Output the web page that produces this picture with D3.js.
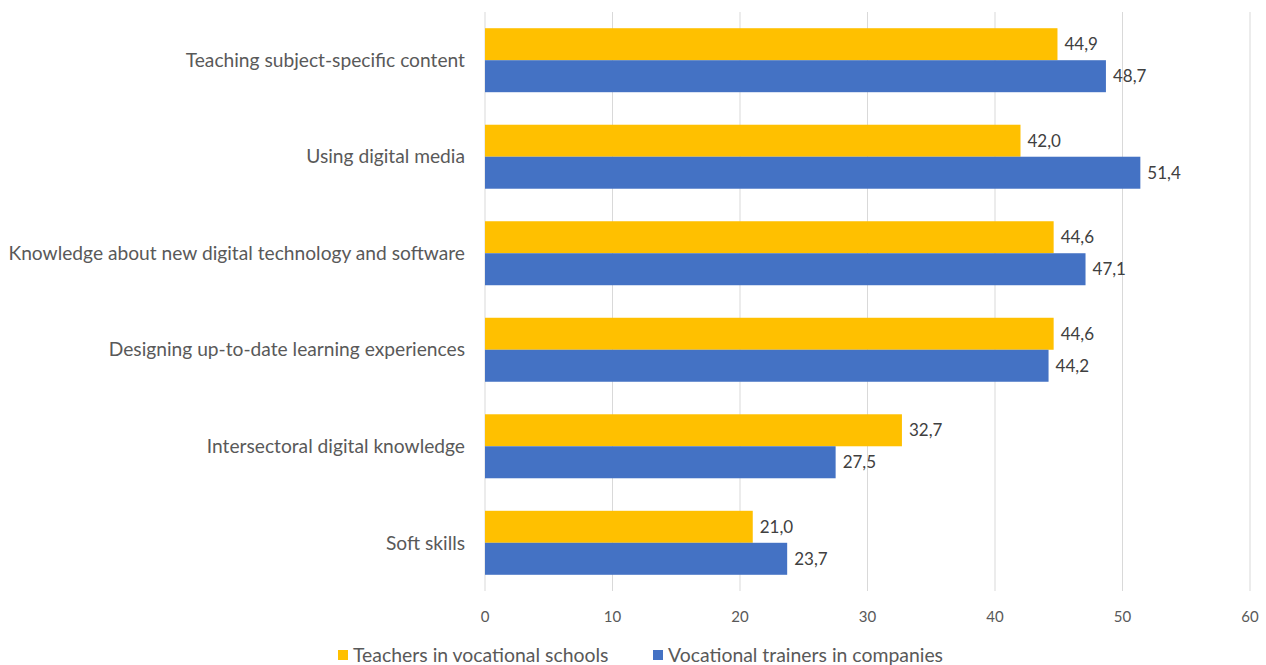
<!DOCTYPE html>
<html>
<head>
<meta charset="utf-8">
<script src="https://cdn.jsdelivr.net/npm/d3@7"></script>
<style>
  body { margin: 0; background: #fff; }
  text { font-family: Lato, "Open Sans", sans-serif; }
</style>
</head>
<body>
<script>
// chart data
var categories = [
    "Teaching subject-specific content",
    "Using digital media",
    "Knowledge about new digital technology and software",
    "Designing up-to-date learning experiences",
    "Intersectoral digital knowledge",
    "Soft skills"
];
var seriesNames = ["Teachers in vocational schools", "Vocational trainers in companies"];
var teachers = [44.9, 42.0, 44.6, 44.6, 32.7, 21.0];
var trainers = [48.7, 51.4, 47.1, 44.2, 27.5, 23.7];
var ticks = [0, 10, 20, 30, 40, 50, 60];
var colors = ["#FFC000", "#4472C4"];

var width = 1266,
    height = 665;
var svg = d3.select("body").append("svg").attr("width", width).attr("height", height);

var plotLeft = 485, plotRight = 1250, plotTop = 12, plotBottom = 591;

var x = d3.scaleLinear().domain([0, 60]).range([plotLeft, plotRight]);
var y = d3.scaleBand().domain(categories).range([plotTop, plotBottom]).paddingInner(0.337).paddingOuter(0.168);
var ySub = d3.scaleBand().domain([0, 1]).range([0, y.bandwidth()]);

//gridlines
svg.append("g")
    .selectAll("line")
    .data(ticks)
    .enter().append("line")
    .attr("x1", (d) => x(d))
    .attr("x2", (d) => x(d))
    .attr("y1", plotTop)
    .attr("y2", plotBottom)
    .attr("stroke", "#d9d9d9")
    .attr("stroke-width", 1);

//x tick labels
svg.append("g")
    .selectAll("text")
    .data(ticks)
    .enter().append("text")
    .attr("x", (d) => x(d))
    .attr("y", 622)
    .attr("text-anchor", "middle")
    .attr("fill", "#595959")
    .style("font-size", "15px")
    .text((d) => d);

//category labels
svg.append("g")
    .selectAll("text")
    .data(categories)
    .enter().append("text")
    .attr("x", 465)
    .attr("y", (d) => y(d) + y.bandwidth() / 2)
    .attr("dy", "0.35em")
    .attr("text-anchor", "end")
    .attr("fill", "#595959")
    .style("font-size", "19.2px")
    .text((d) => d);

var series = [teachers, trainers];
var fmt = (v) => v.toFixed(1).replace(".", ",");

series.forEach(function (vals, si) {
    var g = svg.append("g");
    g.selectAll("rect")
        .data(vals)
        .enter().append("rect")
        .attr("x", x(0))
        .attr("y", (d, i) => y(categories[i]) + ySub(si))
        .attr("width", (d) => x(d) - x(0))
        .attr("height", ySub.bandwidth())
        .attr("fill", colors[si]);
    g.selectAll("text")
        .data(vals)
        .enter().append("text")
        .attr("x", (d) => x(d) + 7)
        .attr("y", (d, i) => y(categories[i]) + ySub(si) + ySub.bandwidth() / 2)
        .attr("dy", "0.35em")
        .attr("fill", "#404040")
        .style("font-size", "17px")
        .text((d) => fmt(d));
});

//legend
var legendX = [338, 653];
var legend = svg.append("g")
    .selectAll("g")
    .data(seriesNames)
    .enter().append("g")
    .attr("transform", (d, i) => "translate(" + legendX[i] + ",655)");
legend.append("rect")
    .attr("x", 0)
    .attr("y", -5)
    .attr("width", 10)
    .attr("height", 10)
    .attr("fill", (d, i) => colors[i]);
legend.append("text")
    .attr("x", 15)
    .attr("y", 0)
    .attr("dy", "0.35em")
    .attr("fill", "#595959")
    .style("font-size", "19.4px")
    .text((d) => d);
</script>
</body>
</html>
